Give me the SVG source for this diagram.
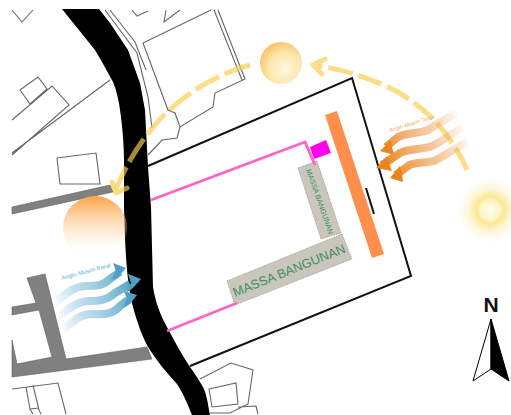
<svg xmlns="http://www.w3.org/2000/svg" width="511" height="415" viewBox="0 0 511 415">
<style>
.thin{fill:none;stroke:#666;stroke-width:1.1}
.grey{fill:#808080;stroke:#5f5f5f;stroke-width:.6}
.site{fill:none;stroke:#111;stroke-width:2;stroke-linejoin:miter}
.pink{fill:none;stroke:#ff63c4;stroke-width:2.800}
.mass{fill:#cac6bb;stroke:#77756c;stroke-width:.5;stroke-dasharray:1.5 1}
.mt{font-family:"Liberation Sans",Arial,sans-serif;fill:#3f8f68}
.dash{fill:none;stroke:#fbcb4e;stroke-opacity:.68;stroke-width:5}
.wave{fill:none;stroke-width:8;stroke-linecap:butt}
</style>
<defs>
<radialGradient id="sunTop" cx=".6" cy=".65" r=".78"><stop offset="0" stop-color="#fff6dc"/><stop offset=".5" stop-color="#fde7ad"/><stop offset="1" stop-color="#f8b44c"/></radialGradient>
<radialGradient id="sunRight"><stop offset="0" stop-color="#fffdf0"/><stop offset=".3" stop-color="#fff6c8"/><stop offset=".42" stop-color="#fbe793"/><stop offset=".7" stop-color="#fbeeb5" stop-opacity=".45"/><stop offset="1" stop-color="#fbeeb5" stop-opacity="0"/></radialGradient>
<linearGradient id="sunLeft" x1="0" y1="0" x2="0" y2="1"><stop offset="0" stop-color="#fb9f3e" stop-opacity=".95"/><stop offset=".85" stop-color="#fdd9ac" stop-opacity="0"/></linearGradient>
<linearGradient id="blueW" gradientUnits="userSpaceOnUse" x1="55" y1="310" x2="135" y2="285"><stop offset="0" stop-color="#5fabcd" stop-opacity="0"/><stop offset=".45" stop-color="#8cc3dc" stop-opacity=".7"/><stop offset="1" stop-color="#4f9fc4"/></linearGradient>
<linearGradient id="orW" gradientUnits="userSpaceOnUse" x1="465" y1="125" x2="385" y2="165"><stop offset="0" stop-color="#ee9a4a" stop-opacity="0"/><stop offset=".4" stop-color="#efa864" stop-opacity=".6"/><stop offset="1" stop-color="#ea841c"/></linearGradient>
</defs>

<g id="context-buildings">
<path class="thin" d="M12 10 22 22 33 10M132 10 137 16 148 11M166 10 164 22 180 10"/>
<path class="thin" d="M211 10 143 43 168 110 175 113 180 127 213 107 215 93 245 79 218 10M214 10 242 80"/>
<path class="thin" d="M105 10 137 53 148 97 152 128M110 10 135 42 146 70"/>
<path class="thin" d="M180 127 177 138 162 140 148 155"/>
<path class="thin" d="M12 120 52 86 69 105 12 155M20 90 38 77 47 89 30 104 20 90M12 153 110 80"/>
<path class="thin" d="M57 158 96 153 100 184 60 184Z"/>
<path class="thin" d="M12 389 58 383 66 414M26 387 30 409 33 414M33 385 39 410 41 414M30 409 39 408"/>
<path class="thin" d="M200 379 231 363 253 370 248 404 230 413 210 413M209 389 236 383 238 404 212 407ZM238 407 256 406 258 414"/>
</g>

<g id="grey-roads">
<polygon class="grey" points="12,207 110,185 113,192 12,214"/>
<polygon class="grey" points="27,278 45,274 66,359 147,347 152,359 12,377 12,340 17,364 52,357 39,310 12,315 12,307 36,303"/>
</g>

<g id="road"><path fill="#000" d="M62 9 95 50C104 65 109 75 112 80S119 100 120 110C123 130 124 150 124 160L124 207C125 240 126 280 133 307C137 322 142 336 148 347C156 360 166 372 177 384C184 395 188 405 192 415L210 415C208 405 207 395 203 387C199 380 195 374 190 367C182 355 174 340 167 327C160 315 155 300 153 287L151 207 148 167 145 110 140 83 128 50 110 23 99 9Z"/></g>

<g id="site"><path class="site" d="M148 166 352 78 411 276 190 366"/></g>
<g id="orange-bar"><polygon fill="#ff8f4c" points="325,115 337,111 384,254 372,258"/></g>
<g id="black-mark"><path d="M366 188 374 214" fill="none" stroke="#111" stroke-width="2"/></g>
<g id="magenta-square"><polygon fill="#ff00f0" points="310,147 326,140 331,153 314,159"/></g>

<g id="massa-vertical">
<polygon class="mass" points="298,168 317,161 341,233 321,239"/>
<text class="mt" font-size="7.300" transform="translate(306,170) rotate(70.500)">MASSA BANGUNAN</text>
</g>
<g id="massa-horizontal">
<polygon class="mass" points="227,281 342,234 352,259 235,305"/>
<text class="mt" font-size="12.800" transform="translate(235,297) rotate(-22)">MASSA BANGUNAN</text>
</g>
<g id="connectors">
<path class="pink" d="M151 200 305 142 315 165"/>
<path class="pink" d="M167 331 237 303"/>
<path class="dash" stroke-dasharray="25 6" d="M467 170C452 135 425 105 390 88 365 76 340 69 318 66"/>
<path class="dash" stroke-linecap="round" stroke-linejoin="round" d="M325 59 313 65 322 74"/>
<path class="dash" stroke-dasharray="27 6" d="M250 65C220 73 190 90 165 114 145 134 128 160 116 189"/>
<path class="dash" stroke-linecap="round" stroke-linejoin="round" d="M112 182 116 193 127 188"/>
</g>

<g id="sun-top"><circle cx="281" cy="63" r="21" fill="url(#sunTop)"/></g>
<g id="sun-right"><circle cx="490" cy="210" r="32" fill="url(#sunRight)"/></g>
<g id="sun-left"><circle cx="95" cy="228" r="32" fill="url(#sunLeft)"/></g>

<g id="wind-west">
<path class="wave" stroke="url(#blueW)" d="M55 302C65 295 72 287 85 286 98 286 102 286 110 279L120 272"/>
<polygon fill="#4f9fc4" points="126,268 113,263 116,271 111,280 118,277"/>
<path class="wave" stroke="url(#blueW)" d="M58 317C68 310 75 302 88 301 100 301 107 300 115 293L130 284"/>
<polygon fill="#4f9fc4" points="141,279 128,274 131,283 126,293 133,288"/>
<path class="wave" stroke="url(#blueW)" d="M63 330C73 322 78 314 92 314 105 315 113 314 120 306L128 300"/>
<polygon fill="#4f9fc4" points="137,295 124,291 127,299 123,308 130,304"/>
<text font-family="Liberation Sans,Arial,sans-serif" font-size="6" fill="#5fb0d0" transform="translate(62,280) rotate(-15)">Angin Musim Barat</text>
</g>
<g id="wind-east">
<path class="wave" stroke="url(#orW)" d="M458 113C448 116 440 123 428 130 418 134 408 132 398 137L386 147"/>
<polygon fill="#ea841c" points="380,151 391,140 392,147 394,155"/>
<path class="wave" stroke="url(#orW)" d="M463 128C452 132 445 140 432 146 422 150 410 148 400 153L382 165"/>
<polygon fill="#ea841c" points="376,168 387,156 389,163 392,171"/>
<path class="wave" stroke="url(#orW)" d="M468 142C458 146 450 153 436 160 426 164 416 161 408 166L396 175"/>
<polygon fill="#ea841c" points="390,178 400,166 402,174 403,182"/>
<text font-family="Liberation Sans,Arial,sans-serif" font-size="5.500" fill="#f0a868" transform="translate(390,132) rotate(-17)">Angin Musim Timur</text>
</g>

<g id="north-arrow">
<text x="491" y="312" font-family="Liberation Sans,Arial,sans-serif" font-size="21" font-weight="bold" text-anchor="middle" fill="#111">N</text>
<polygon fill="#fff" stroke="#000" stroke-width="1" points="491,319 473,381 491,369"/>
<polygon fill="#000" stroke="#000" stroke-width="1" points="491,319 509,381 491,369"/>
</g>
</svg>
